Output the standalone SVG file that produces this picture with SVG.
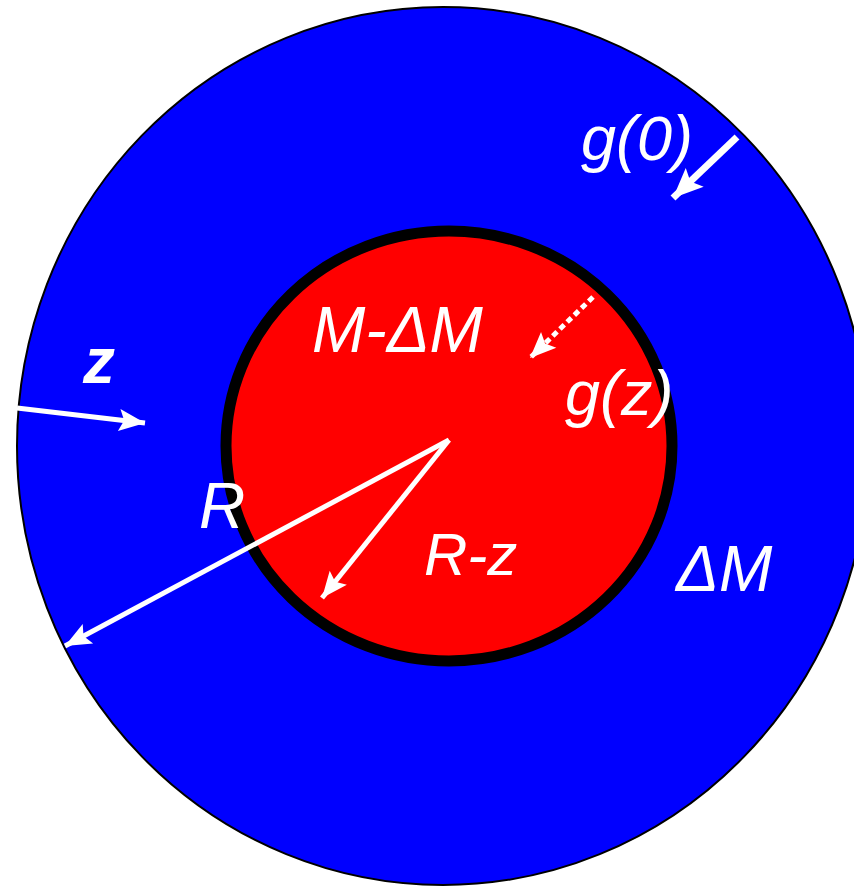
<svg xmlns="http://www.w3.org/2000/svg" width="854" height="887" viewBox="0 0 854 887">
<style>
.lbl{font-family:"Liberation Sans",Arial,sans-serif;font-style:italic;fill:#fff}
.arr{stroke:#fff;fill:none}
marker{overflow:visible}
</style>
<defs>
<marker id="ah" markerUnits="userSpaceOnUse" markerWidth="30" markerHeight="26" refX="26" refY="11" orient="auto">
<path d="M0,0 L26,11 L0,22 L5,11 z" fill="#fff"/>
</marker>
<marker id="ahb" markerUnits="userSpaceOnUse" markerWidth="34" markerHeight="30" refX="30" refY="13" orient="auto">
<path d="M0,0 L30,13 L0,26 L6,13 z" fill="#fff"/>
</marker>
</defs>
<g id="outer">
<ellipse cx="443" cy="446" rx="426" ry="439" fill="#0000ff" stroke="#000" stroke-width="2"/>
</g>
<g id="inner">
<ellipse cx="449" cy="446" rx="223" ry="215" fill="#ff0000" stroke="#000" stroke-width="11"/>
</g>
<g id="connectors">
<line class="arr" x1="737" y1="137" x2="673" y2="198" stroke-width="7" marker-end="url(#ahb)"/>
<line class="arr" x1="593" y1="297" x2="530" y2="358" stroke-width="5" stroke-dasharray="6,4" marker-end="url(#ah)"/>
<line class="arr" x1="17" y1="408" x2="145" y2="423" stroke-width="5" marker-end="url(#ah)"/>
<line class="arr" x1="449" y1="440" x2="65" y2="646" stroke-width="5" marker-end="url(#ah)"/>
<line class="arr" x1="449" y1="440" x2="322" y2="598" stroke-width="5" marker-end="url(#ah)"/>
</g>
<g id="labels">
<text class="lbl" x="581" y="160" font-size="63">g(0)</text>
<text class="lbl" x="312" y="352" font-size="64">M-ΔM</text>
<text class="lbl" x="565" y="415" font-size="63">g(z)</text>
<text x="83" y="383" font-size="64" font-family="Liberation Sans,Arial,sans-serif" font-weight="bold" font-style="italic" fill="#fff">z</text>
<text class="lbl" x="199" y="528" font-size="64">R</text>
<text class="lbl" x="424" y="575" font-size="60">R-z</text>
<text class="lbl" x="676" y="591" font-size="64">ΔM</text>
</g>
</svg>
